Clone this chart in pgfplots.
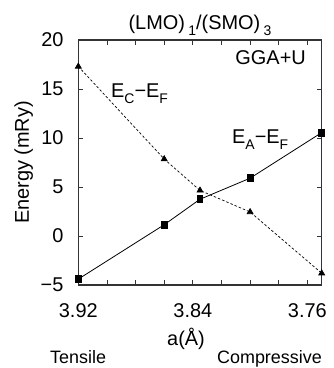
\documentclass[border=0pt]{standalone}
\usepackage{pgfplots}
\pgfplotsset{compat=1.18}
\usepackage{fontspec}
\setmainfont{Liberation Sans}
\newcommand{\sub}[1]{\raisebox{-0.3em}{\fontsize{14}{14}\selectfont #1}}
\begin{document}
\fontsize{20}{24}\selectfont
\begin{tikzpicture}
\begin{axis}[
  scale only axis, width=243.4bp, height=245bp,
  x dir=reverse, xmin=3.75, xmax=3.92, ymin=-5, ymax=20,
  xtick={3.76,3.84,3.92}, xticklabels={3.76,3.84,3.92},
  minor xtick={3.78,3.80,3.82,3.86,3.88,3.90},
  ytick={-5,0,5,10,15,20}, yticklabels={−5,0,5,10,15,20},
  tick align=inside, major tick length=5bp, minor tick length=5bp,
  tick style={line width=0.8bp, color=black!80},
  axis line style={line width=1.2bp, black!80},
  ticklabel style={font=\fontsize{20}{20}\selectfont},
  xticklabel style={yshift=-12bp},
  yticklabel style={xshift=-8bp},
  clip=false,
]
\addplot[black, line width=0.8bp, mark=square*, mark size=3.6bp, mark options={xscale=0.8, solid}]
  coordinates {(3.92,-4.4) (3.86,1.15) (3.835,3.75) (3.80,5.9) (3.75,10.55)};
\addplot[black, line width=0.7bp, dash pattern=on 2.5bp off 2bp, mark=triangle*, mark size=3.4bp, mark options={solid}]
  coordinates {(3.92,17.3) (3.86,7.85) (3.835,4.65) (3.80,2.45) (3.75,-3.8)};
\end{axis}
\path (current axis.south west) ++(-78.3bp,-83bp) rectangle ++(331bp,368bp);
\begin{scope}[shift={(current axis.south west)}]
\node[anchor=base, inner sep=0] at (121.7bp,255bp) {(LMO)\,\sub{1}/(SMO)\,\sub{3}};
\node[anchor=base east, inner sep=0] at (227.7bp,220bp) {GGA+U};
\node[anchor=base west, inner sep=0] at (32.7bp,187.3bp) {E\sub{C}−E\sub{F}};
\node[anchor=base west, inner sep=0] at (153.7bp,141.7bp) {E\sub{A}−E\sub{F}};
\node[anchor=base, inner sep=0] at (107.7bp,-60bp) {a(Å)};
\node[anchor=base west, inner sep=0, font=\fontsize{18}{20}\selectfont] at (-28.3bp,-78bp) {Tensile};
\node[anchor=base east, inner sep=0, font=\fontsize{18}{20}\selectfont] at (243.7bp,-78bp) {Compressive};
\node[anchor=base, rotate=90, inner sep=0] at (-49.3bp,122.5bp) {Energy (mRy)};
\end{scope}
\end{tikzpicture}
\end{document}
